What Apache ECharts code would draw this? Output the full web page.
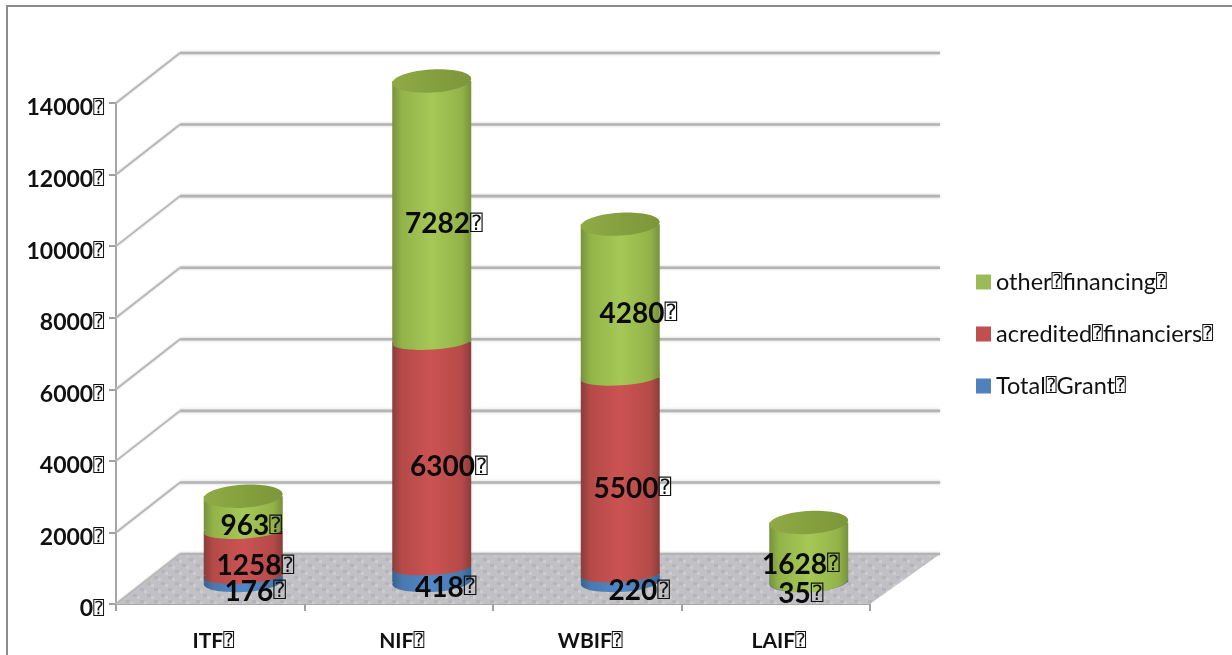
<!DOCTYPE html>
<html><head><meta charset="utf-8">
<style>html,body{margin:0;padding:0;background:#fff}#c{width:1232px;height:655px}</style>
<script src="https://cdn.jsdelivr.net/npm/echarts@6/dist/echarts.min.js"></script>
</head><body><div id="c"></div>
<script>
const categories = ['ITF', 'NIF', 'WBIF', 'LAIF'];
const totalGrant = [176, 418, 220, 35];
const accredited = [1258, 6300, 5500, 0];
const otherFinancing = [963, 7282, 4280, 1628];
const yTicks = [0, 2000, 4000, 6000, 8000, 10000, 12000, 14000];
const TOFU = '\u2370';

const chart = echarts.init(document.getElementById('c'), null, {renderer: 'canvas'});
const FONT = 'Lato, Carlito, "Open Sans", sans-serif';
const TOFU_STYLE = {fontFamily: '"DejaVu Sans Mono"', fontSize: 18, fontWeight: 'normal', color: '#111'};

// 3D projection styling
const DEPTH_X = 64, DEPTH_Y = 50, RIGHT_DEPTH_X = 70;
const BAR_DX = 33, BAR_DY = 22, RX = 39.5, RY_BASE = 10, RY_JOIN = 8, RY_TOP = 11.5;
const TILT = 0.06;
// small hand nudges of the value labels [x] per category, per stack level
const NUDGE = [[12, 12, 8], [14, 17, 12], [19, 12, 18], [-8, 0, -8]];

function grad(edge, mid) {
  return new echarts.graphic.LinearGradient(0, 0, 1, 0, [
    {offset: 0, color: edge}, {offset: 0.12, color: mid[0]},
    {offset: 0.5, color: mid[1]}, {offset: 0.88, color: mid[0]}, {offset: 1, color: edge}]);
}
const FILLS = {
  blue: grad('#37618f', ['#4a78ae', '#5288c6']),
  red: grad('#8a3d3b', ['#b54a48', '#cb5352']),
  green: grad('#76923c', ['#93b349', '#a6c856'])
};
const TOP_FILL = new echarts.graphic.LinearGradient(0, 0, 1, 0, [
  {offset: 0, color: '#8faa45'}, {offset: 0.5, color: '#85a03f'}, {offset: 1, color: '#7c963a'}]);

function floorPattern() {
  const c = document.createElement('canvas'); c.width = 14; c.height = 12;
  const g = c.getContext('2d');
  g.fillStyle = '#c1c1c5'; g.fillRect(0, 0, 14, 12);
  g.fillStyle = '#b4b4b9'; g.fillRect(0, 0, 4, 3); g.fillRect(7, 6, 4, 3);
  g.fillStyle = '#cdcdd0'; g.fillRect(4, 2, 3, 3); g.fillRect(11, 8, 3, 3);
  return c;
}
const PATTERN = {image: floorPattern(), repeat: 'repeat'};

function segmentSeries(name, values, below, fill, legendColor, top) {
  return {
    type: 'custom', name, coordinateSystem: 'cartesian2d', animation: false, silent: true,
    itemStyle: {color: legendColor}, z: 3,
    data: categories.map((c, i) => [i, below[i], below[i] + values[i]]),
    renderItem(params, api) {
      if (api.value(2) === api.value(1)) return null;
      const bottom = api.coord([api.value(0), api.value(1)]);
      const upper = api.coord([api.value(0), api.value(2)]);
      const cx = bottom[0] + BAR_DX, by = bottom[1] - BAR_DY, ty = upper[1] - BAR_DY;
      const isBase = api.value(1) < 100;
      const kids = [
        {type: 'ellipse', shape: {cx, cy: by, rx: RX, ry: isBase ? RY_BASE + (api.value(1) > 0 ? 1.5 : 0) : RY_JOIN},
          rotation: TILT, originX: cx, originY: by, style: {fill}},
        {type: 'rect', shape: {x: cx - RX, y: ty, width: 2 * RX, height: by - ty}, style: {fill}}
      ];
      if (top[api.value(0)]) {
        kids.push({type: 'ellipse', shape: {cx, cy: ty, rx: RX, ry: RY_TOP},
          rotation: TILT, originX: cx, originY: ty, style: {fill: TOP_FILL}});
      }
      return {type: 'group', children: kids};
    }
  };
}

const zeros = categories.map(() => 0);
const belowRed = totalGrant.slice();
const belowGreen = totalGrant.map((v, i) => v + accredited[i]);
const allTop = categories.map(() => true);
const noTop = categories.map(() => false);

const labelData = [];
categories.forEach((c, i) => {
  [[totalGrant, zeros], [accredited, belowRed], [otherFinancing, belowGreen]].forEach((pair, lvl) => {
    const v = pair[0][i];
    if (v > 0) labelData.push([i, pair[1][i] + v / 2, v, lvl]);
  });
});

chart.setOption({
  backgroundColor: '#fff',
  animation: false,
  grid: {left: 116, top: 103, width: 754, height: 501, containLabel: false},
  xAxis: {
    type: 'category', data: categories, boundaryGap: true,
    axisLine: {show: true, lineStyle: {color: '#a6a6a6', width: 2}},
    axisTick: {show: true, alignWithLabel: false, length: 7, lineStyle: {color: '#a0a0a0', width: 2}},
    axisLabel: {
      margin: 27, fontFamily: FONT, fontWeight: 'bold', fontSize: 21, color: '#111',
      formatter: v => '{v|' + v + '}{t|' + TOFU + '}',
      rich: {v: {fontFamily: FONT, fontWeight: 'bold', fontSize: 21, color: '#111', padding: [0, 0, 0, 6]}, t: TOFU_STYLE}
    },
    splitLine: {show: false}
  },
  yAxis: {
    type: 'value', min: 0, max: 14000, interval: 2000,
    axisLine: {show: true, lineStyle: {color: '#a6a6a6', width: 2}},
    axisTick: {show: true, length: 7, lineStyle: {color: '#a0a0a0', width: 2}},
    axisLabel: {
      margin: 12, fontFamily: FONT, fontWeight: 'bold', fontSize: 23, color: '#111',
      verticalAlign: 'middle', padding: [10, 0, 0, 0],
      formatter: v => '{v|' + v + '}{t|' + TOFU + '}',
      rich: {v: {fontFamily: FONT, fontWeight: 'bold', fontSize: 23, color: '#111'}, t: TOFU_STYLE}
    },
    splitLine: {show: false}
  },
  legend: {
    orient: 'vertical', left: 971, top: 265, itemWidth: 15, itemHeight: 15, itemGap: 28,
    icon: 'rect', selectedMode: false,
    data: ['other financing', 'acredited financiers', 'Total Grant'],
    formatter: n => n.split(' ').map(w => '{v|' + w + '}').join('{t|' + TOFU + '}') + '{t|' + TOFU + '}',
    textStyle: {
      fontFamily: FONT, fontSize: 23.5, color: '#111',
      rich: {v: {fontFamily: FONT, fontSize: 23.5, color: '#111', height: 26}, t: TOFU_STYLE}
    }
  },
  graphic: [
    {type: 'polyline', silent: true, z: 10, shape: {points: [[7, 655], [7, 6], [1232, 6]]},
      style: {stroke: '#8c8c8c', lineWidth: 2, fill: null}}
  ],
  series: [
    { // floor
      type: 'custom', name: 'floor', silent: true, animation: false, z: 1,
      data: [[0, 0]],
      renderItem(params, api) {
        const y = api.coord([0, 0])[1], x0 = params.coordSys.x, x1 = x0 + params.coordSys.width;
        return {type: 'polygon', shape: {points: [[x0, y], [x0 + DEPTH_X, y - DEPTH_Y], [x1 + RIGHT_DEPTH_X, y - DEPTH_Y], [x1, y]]},
          style: {fill: PATTERN}};
      }
    },
    { // wall lines
      type: 'custom', name: 'wall', silent: true, animation: false, z: 2,
      data: yTicks.map(v => [0, v]),
      renderItem(params, api) {
        const y = api.coord([0, api.value(1)])[1], x0 = params.coordSys.x, x1 = x0 + params.coordSys.width;
        const a = [x0, y], b = [x0 + DEPTH_X, y - DEPTH_Y], e = [x1 + RIGHT_DEPTH_X, y - DEPTH_Y];
        return {type: 'group', children: [
          {type: 'polyline', shape: {points: [a, b]}, style: {stroke: '#b8b8b8', lineWidth: 1.8, fill: null, shadowBlur: 2, shadowColor: '#c8c8c8'}},
          {type: 'polyline', shape: {points: [b, e]}, style: {stroke: '#b4b4b4', lineWidth: 2.6, fill: null, shadowBlur: 3, shadowColor: '#c8c8c8'}}
        ]};
      }
    },
    segmentSeries('Total Grant', totalGrant, zeros, FILLS.blue, '#4f81bd', noTop),
    segmentSeries('acredited financiers', accredited, belowRed, FILLS.red, '#c0504d', noTop),
    segmentSeries('other financing', otherFinancing, belowGreen, FILLS.green, '#9bbb59', allTop),
    { // value labels
      type: 'custom', name: 'labels', silent: true, animation: false, z: 6,
      data: labelData,
      renderItem(params, api) {
        const p = api.coord([api.value(0), api.value(1)]);
        const i = api.value(0), lvl = api.value(3);
        return {type: 'text', style: {
          x: p[0] + BAR_DX + NUDGE[i][lvl], y: p[1] - BAR_DY + 13,
          text: '{v|' + api.value(2) + '}{t|' + TOFU + '}',
          align: 'center', verticalAlign: 'middle',
          rich: {v: {fontFamily: FONT, fontWeight: 'bold', fontSize: 28, fill: '#0a0a0a', color: '#0a0a0a'}, t: Object.assign({}, TOFU_STYLE, {fontSize: 21, fill: '#111'})}
        }};
      }
    }
  ]
});
</script></body></html>
